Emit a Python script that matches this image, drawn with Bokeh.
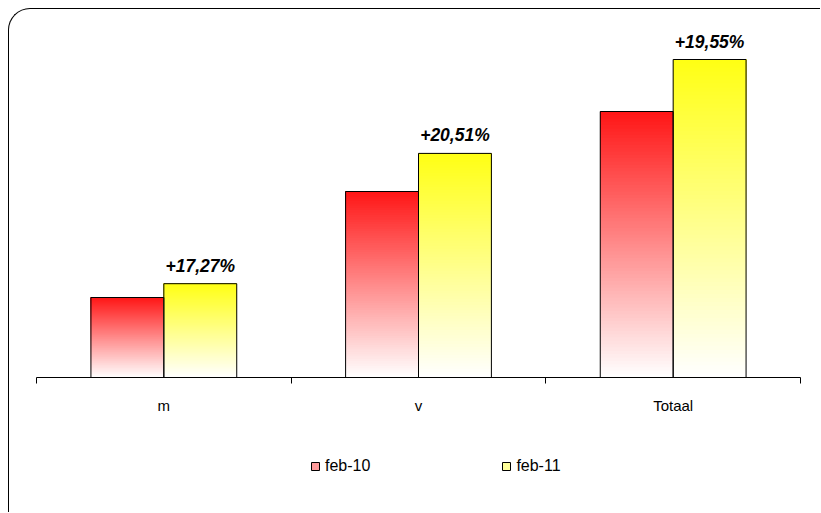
from bokeh.plotting import figure
from bokeh.layouts import column
from bokeh.models import (Range1d, LinearAxis, FixedTicker, Legend, LegendItem,
                          ColumnDataSource)
from bokeh.core.properties import value
from bokeh.embed import file_html
from bokeh.resources import INLINE

# ---- data -------------------------------------------------------------
categories = ["m", "v", "Totaal"]
series_names = ["feb-10", "feb-11"]
feb10 = [80.0, 186.0, 266.0]
feb11 = [93.8, 224.1, 318.0]
growth_labels = ["+17,27%", "+20,51%", "+19,55%"]

# ---- styling ----------------------------------------------------------
FONT = "Liberation Sans"
base_colors = [(255, 22, 22), (255, 255, 20)]
legend_colors = ["#ff9a9a", "#ffff9a"]
BAR_W = 73 / 255
N = 80

p = figure(width=811, height=420, output_backend="svg", toolbar_location=None,
           x_range=Range1d(0, 3), y_range=Range1d(0, 347),
           x_axis_location=None, y_axis_location=None,
           min_border_left=27, min_border_right=20,
           min_border_top=21, min_border_bottom=52)
p.frame_align = False
p.grid.visible = False
p.outline_line_color = None
p.background_fill_color = None
p.border_fill_color = None

centers = [i + 0.5 for i in range(len(categories))]
series_vals = [feb10, feb11]

# gradient bars: overlapping slices, each running up to the bar top
xs, bots, tops, cols = [], [], [], []
for s, vals in enumerate(series_vals):
    off = (-0.5 + s) * BAR_W
    base = base_colors[s]
    for c, v in zip(centers, vals):
        for k in range(N):
            t = (k + 0.5) / N
            rgb = tuple(int(round(255 + (b - 255) * t)) for b in base)
            xs.append(c + off)
            bots.append(v * k / N)
            tops.append(v)
            cols.append("#%02x%02x%02x" % rgb)
p.vbar(x=xs, bottom=bots, top=tops, width=BAR_W, fill_color=cols,
       line_color=None)

# outlines
for s, vals in enumerate(series_vals):
    off = (-0.5 + s) * BAR_W
    src = ColumnDataSource(dict(x=[c + off for c in centers], top=vals))
    p.vbar(x="x", top="top", width=BAR_W, source=src, fill_color=None,
           line_color="black", line_width=1)

# growth labels
p.text(x=[c + 0.5 * BAR_W for c in centers], y=feb11, text=growth_labels,
       text_align="center", text_baseline="alphabetic", y_offset=-18,
       text_font=value(FONT), text_font_style="bold italic",
       text_font_size="17.5px", text_color="black")

# axis
axis = LinearAxis(
    ticker=FixedTicker(ticks=centers, minor_ticks=[0, 1, 2, 3]),
    major_label_overrides={c: n for c, n in zip(centers, categories)},
    major_tick_line_color=None, major_tick_out=0, major_tick_in=0,
    minor_tick_out=6, minor_tick_in=0, minor_tick_line_color="black",
    axis_line_color="black", axis_line_width=1,
    major_label_standoff=13, major_label_text_font=FONT,
    major_label_text_font_size="15px", major_label_text_color="black")
p.add_layout(axis, "below")

# ---- legend strip -------------------------------------------------------
q = figure(width=811, height=83, output_backend="svg", toolbar_location=None,
           x_range=Range1d(0, 3), y_range=Range1d(0, 347),
           x_axis_location=None, y_axis_location=None,
           min_border_left=301, min_border_right=0,
           min_border_top=28, min_border_bottom=0)
q.frame_align = False
q.grid.visible = False
q.outline_line_color = None
q.background_fill_color = None
q.border_fill_color = None

items = []
for s, (name, col) in enumerate(zip(series_names, legend_colors)):
    off = (-0.5 + s) * BAR_W
    r = q.vbar(x=[c + off for c in centers], top=series_vals[s], width=BAR_W,
               fill_color=col, line_color="black", line_width=1, visible=False)
    items.append(LegendItem(label=name, renderers=[r]))
legend = Legend(items=items, orientation="horizontal", location="top_left",
                padding=0, margin=0, spacing=131, label_standoff=5,
                glyph_width=10, glyph_height=10, border_line_color=None,
                background_fill_alpha=0, label_text_font=FONT,
                label_text_font_size="16px", label_text_color="black")
q.add_layout(legend, "center")

layout = column(p, q, spacing=0)
layout.styles = {"margin-left": "8px", "margin-top": "8px",
                 "border-top": "1.5px solid #000",
                 "border-left": "1.5px solid #000",
                 "border-top-left-radius": "22px"}

open("out.html", "w").write(file_html(layout, INLINE))
